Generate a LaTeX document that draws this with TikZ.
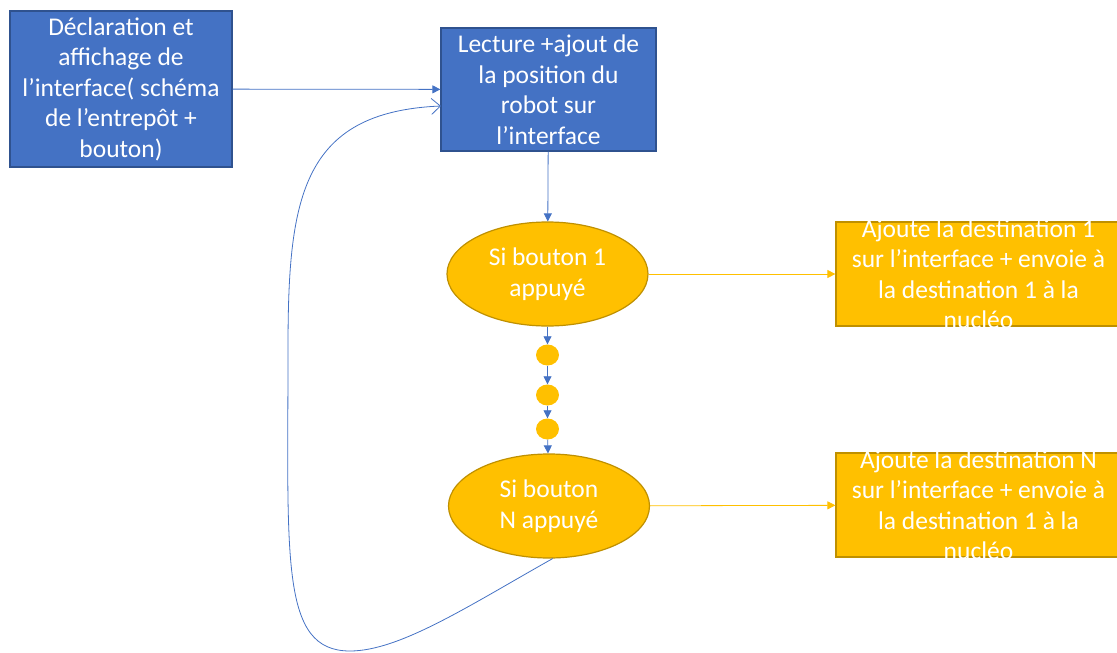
\documentclass[tikz,border=0pt]{standalone}
\usepackage{fontspec}
\setmainfont{Carlito}
\usetikzlibrary{arrows.meta,shapes.geometric}
\definecolor{boxblue}{HTML}{4472C4}
\definecolor{boxblueline}{HTML}{2F528F}
\definecolor{gold}{HTML}{FFC000}
\definecolor{goldline}{HTML}{BF9000}

\begin{document}
\begin{tikzpicture}[x=1pt,y=-1pt,
    every node/.style={font=\fontsize{25.5}{30.5}\selectfont,text=white,align=center,inner sep=0pt},
    bluebox/.style={rectangle,draw=boxblueline,fill=boxblue,line width=1.2pt},
    goldbox/.style={rectangle,draw=goldline,fill=gold,line width=1.2pt},
    choice/.style={ellipse,draw=goldline,fill=gold,line width=1.2pt,minimum width=201pt,minimum height=104pt},
    dot/.style={ellipse,fill=gold,minimum width=23pt,minimum height=21pt},
    flow/.style={draw=boxblue,line width=0.8pt,-{Triangle[length=8pt,width=8pt]}},
    goldflow/.style={draw=gold,line width=0.8pt,-{Triangle[length=8pt,width=8pt]}},
    back/.style={draw=boxblue,line width=0.8pt,-{Straight Barb[length=9pt,width=16pt]}}]
  \useasboundingbox (0,0) rectangle (1117,653);
  \clip (0,0) rectangle (1117,653);
  % boites bleues
  \node[bluebox,minimum width=222pt,minimum height=156pt] (decl) at (121,89)
    {Déclaration et\\affichage de\\l’interface( schéma\\de l’entrepôt +\\bouton)};
  \node[bluebox,minimum width=215pt,minimum height=123pt] (lect) at (548.5,89.5)
    {Lecture +ajout de\\la position du\\robot sur\\l’interface};
  % tests des boutons
  \node[choice] (si1) at (547.5,274) {Si bouton 1\\appuyé};
  \node[dot] (d1) at (547.5,355) {};
  \node[dot] (d2) at (547.5,395) {};
  \node[dot] (d3) at (547.5,429) {};
  \node[choice] (siN) at (549,506) {Si bouton\\N appuyé};
  % actions
  \node[goldbox,minimum width=285pt,minimum height=104pt,
    label={[text=white,align=center]center:{Ajoute la destination 1\\sur l’interface + envoie à\\la destination 1 à la\\nucléo}}]
    (dest1) at (978.5,274) {};
  \node[goldbox,minimum width=285pt,minimum height=104pt,
    label={[text=white,align=center]center:{Ajoute la destination N\\sur l’interface + envoie à\\la destination 1 à la\\nucléo}}]
    (destN) at (978.5,505) {};
  % liaisons
  \draw[flow] (decl) -- (lect);
  \draw[flow] (lect) -- (si1);
  \draw[flow] (si1) -- (d1);
  \draw[flow] (d1) -- (d2);
  \draw[flow] (d2) -- (d3);
  \draw[flow] (d3) -- (siN);
  \draw[goldflow] (si1) -- (dest1);
  \draw[goldflow] (siN) -- (destN);
  \coordinate (retour) at (441,106);
  \draw[back] (siN.-86) .. controls (470,605) and (400,651) .. (350,651)
    .. controls (280,651) and (288,560) .. (288,350)
    .. controls (288,200) and (300,112) .. (retour);
\end{tikzpicture}
\end{document}
